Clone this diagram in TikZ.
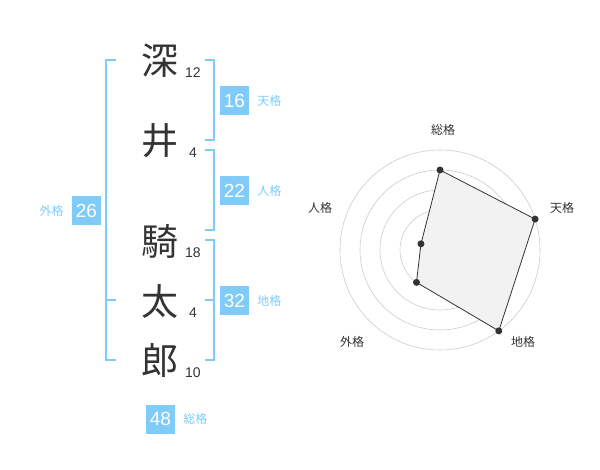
\documentclass[tikz,border=0pt]{standalone}
\usepackage{fontspec}
\usetikzlibrary{positioning}
\setmainfont{Noto Sans CJK JP}
\newfontfamily\numfont{Liberation Sans}
\definecolor{kakublue}{HTML}{80CBF8}
\definecolor{inkgray}{HTML}{333333}
\definecolor{ringgray}{HTML}{CCCCCC}

\begin{document}
\begin{tikzpicture}[x=1pt,y=-1pt,
  kanji/.style={font=\fontsize{37}{37}\selectfont, text=inkgray, inner sep=0},
  strokes/.style={font=\numfont\fontsize{14}{14}\selectfont, text=inkgray, inner sep=0},
  kakubox/.style={fill=kakublue, text=white, minimum size=29pt, inner sep=0, font=\numfont\fontsize{19}{19}\selectfont},
  kakulabel/.style={text=kakublue, font=\fontsize{12}{12}\selectfont, inner sep=0},
  bracket/.style={draw=kakublue, line width=1.6pt},
  ring/.style={draw=ringgray, line width=0.6pt},
  dot/.style={circle, fill=inkgray, inner sep=0, minimum size=7pt}]
\useasboundingbox (0,0) rectangle (600,470);

\node[kanji] (fuka) at (160,61) {深};
\node[kanji] (i) at (160,141) {井};
\node[kanji] (ki) at (160,241) {騎};
\node[kanji] (ta) at (160,301) {太};
\node[kanji] (ro) at (160,361) {郎};
\node[strokes] (n1) at (193,73) {12};
\node[strokes] (n2) at (193,153) {4};
\node[strokes] (n3) at (193,253) {18};
\node[strokes] (n4) at (193,313) {4};
\node[strokes] (n5) at (193,373) {10};

\draw[bracket] (116,60) -- (106,60) -- (106,360) -- (116,360) (106,300) -- (116,300);
\draw[bracket] (205,60) -- (214,60) -- (214,140) -- (205,140);
\draw[bracket] (205,150) -- (214,150) -- (214,230) -- (205,230);
\draw[bracket] (205,240) -- (214,240) -- (214,360) -- (205,360) (214,300) -- (205,300);

\node[kakubox] (ten) at (234.5,100.5) {16};
\node[kakulabel, right=8pt of ten] {天格};
\node[kakubox] (jin) at (234.5,190.5) {22};
\node[kakulabel, right=8pt of jin] {人格};
\node[kakubox] (chi) at (234.5,300.5) {32};
\node[kakulabel, right=8pt of chi] {地格};
\node[kakubox] (gai) at (86.5,210.5) {26};
\node[kakulabel, left=8pt of gai] {外格};
\node[kakubox] (sou) at (160.5,419) {48};
\node[kakulabel, right=8pt of sou] {総格};

\begin{scope}[shift={(440,250)}, yscale=-1]
  \foreach \r in {20,40,60,80,100} \draw[ring] (0,0) circle (\r);
  \fill[ringgray] (0,0) circle (3.2);
  \draw[fill=black!5, draw=inkgray, line width=0.8pt] (90:80) -- (18:100) -- (-54:100) -- (-126:40) -- (162:20) -- cycle;
  \foreach \a/\r in {90/80, 18/100, -54/100, -126/40, 162/20} \node[dot] at (\a:\r) {};
  \foreach \p/\t in {{(3,120)}/総格, {(122,42)}/天格, {(83,-92)}/地格, {(-88,-92)}/外格, {(-120,42)}/人格}
    \node[font=\fontsize{12}{12}\selectfont, text=inkgray, inner sep=0] at \p {\t};
\end{scope}
\end{tikzpicture}
\end{document}
